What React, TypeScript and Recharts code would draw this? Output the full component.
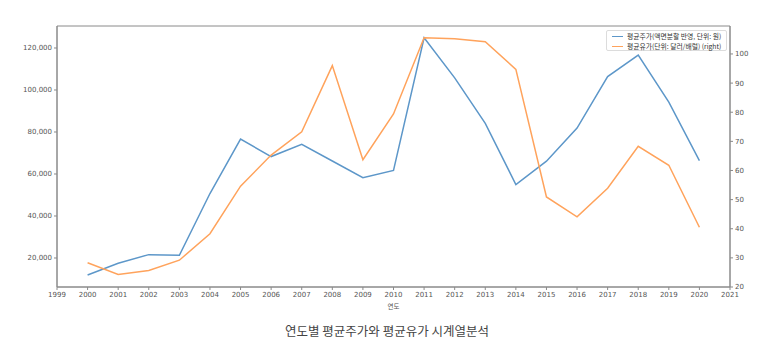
import React from "react";
import { ComposedChart, Line, XAxis, YAxis, ReferenceArea } from "recharts";

const years = [2000, 2001, 2002, 2003, 2004, 2005, 2006, 2007, 2008, 2009, 2010, 2011, 2012, 2013, 2014, 2015, 2016, 2017, 2018, 2019, 2020];
const stockPrice = [11900, 17500, 21600, 21300, 50700, 76600, 68300, 74100, 66200, 58200, 61700, 124900, 105800, 84100, 55000, 66100, 81900, 106400, 116600, 94200, 66400];
const oilPrice = [28.3, 24.3, 25.7, 29.2, 38.3, 54.6, 65.3, 73.3, 96.0, 63.7, 79.4, 105.6, 105.2, 104.2, 94.7, 50.9, 44.1, 53.9, 68.3, 61.8, 40.5];
const xTicks = [1999, 2000, 2001, 2002, 2003, 2004, 2005, 2006, 2007, 2008, 2009, 2010, 2011, 2012, 2013, 2014, 2015, 2016, 2017, 2018, 2019, 2020, 2021];
const leftTicks = [20000, 40000, 60000, 80000, 100000, 120000];
const rightTicks = [20, 30, 40, 50, 60, 70, 80, 90, 100];
const stockLabel = "평균주가(액면분할 반영, 단위: 원)";
const oilLabel = "평균유가(단위: 달러/배럴) (right)";
const xLabel = "연도";
const title = "연도별 평균주가와 평균유가 시계열분석";

const data = years.map((y, i) => ({ year: y, stock: stockPrice[i], oil: oilPrice[i] }));

const BLUE = "#5d97c9";
const ORANGE = "#ffa35c";
const AXIS = "#8a8a8a";
const TICKTXT = "#555";
const FONT = "'DejaVu Sans', 'Noto Sans CJK KR', sans-serif";

const LEFT_DOMAIN: [number, number] = [6190, 130476];
const RIGHT_DOMAIN: [number, number] = [20, 109.6];

export default function App() {
  return (
    <div style={{ position: "absolute", left: 0, top: 0, width: 764, height: 361, background: "#fff", fontFamily: FONT }}>
      <ComposedChart width={764} height={361} data={data} margin={{ top: 26, right: 0, left: 0, bottom: 54 }}>
        <XAxis
          dataKey="year"
          type="number"
          domain={[1999, 2021]}
          ticks={xTicks}
          interval={0}
          height={20}
          tickSize={3}
          tickLine={{ stroke: AXIS }}
          axisLine={{ stroke: AXIS }}
          tick={{ fontSize: 7, fill: TICKTXT, fontFamily: FONT }}
          label={{ value: xLabel, position: "insideBottom", offset: -2, fontSize: 6.5, fill: TICKTXT, fontFamily: "'Noto Sans CJK KR', sans-serif" }}
        />
        <YAxis
          yAxisId="left"
          orientation="left"
          width={57}
          domain={LEFT_DOMAIN}
          ticks={leftTicks}
          allowDataOverflow
          tickSize={3}
          tickLine={{ stroke: AXIS }}
          axisLine={{ stroke: AXIS }}
          tickFormatter={(v: number) => v.toLocaleString("en-US")}
          tick={{ fontSize: 7, fill: TICKTXT, fontFamily: FONT }}
        />
        <YAxis
          yAxisId="right"
          orientation="right"
          width={34}
          domain={RIGHT_DOMAIN}
          ticks={rightTicks}
          allowDataOverflow
          tickSize={3}
          tickLine={{ stroke: AXIS }}
          axisLine={{ stroke: AXIS }}
          tick={{ fontSize: 7, fill: TICKTXT, fontFamily: FONT, textAnchor: "start" }}
        />
        <ReferenceArea
          yAxisId="left"
          x1={1999}
          x2={2021}
          y1={LEFT_DOMAIN[0]}
          y2={LEFT_DOMAIN[1]}
          fill="none"
          fillOpacity={0}
          stroke={AXIS}
          strokeWidth={1}
          ifOverflow="visible"
        />
        <Line yAxisId="left" dataKey="stock" stroke={BLUE} strokeWidth={1.5} dot={false} isAnimationActive={false} />
        <Line yAxisId="right" dataKey="oil" stroke={ORANGE} strokeWidth={1.5} dot={false} isAnimationActive={false} />
      </ComposedChart>
      <div
        style={{
          position: "absolute",
          left: 606,
          top: 30,
          width: 121,
          height: 21,
          border: "1px solid #dcdcdc",
          borderRadius: 2,
          background: "rgba(255,255,255,0.8)",
          boxSizing: "border-box",
          fontFamily: "'Noto Sans CJK KR', sans-serif",
          fontSize: 6.8,
          color: "#333",
          padding: "1px 3px 0 5px",
          lineHeight: "9.5px",
        }}
      >
        <div style={{ display: "flex", alignItems: "center", whiteSpace: "nowrap" }}>
          <span style={{ display: "inline-block", width: 11, height: 0, borderTop: `1.5px solid ${BLUE}`, marginRight: 4 }} />
          {stockLabel}
        </div>
        <div style={{ display: "flex", alignItems: "center", whiteSpace: "nowrap" }}>
          <span style={{ display: "inline-block", width: 11, height: 0, borderTop: `1.5px solid ${ORANGE}`, marginRight: 4 }} />
          {oilLabel}
        </div>
      </div>
      <div
        style={{
          position: "absolute",
          left: 0,
          width: 774,
          top: 321,
          textAlign: "center",
          fontFamily: "'Noto Sans CJK KR', sans-serif",
          fontSize: 12.5,
          color: "#444",
        }}
      >
        {title}
      </div>
    </div>
  );
}
